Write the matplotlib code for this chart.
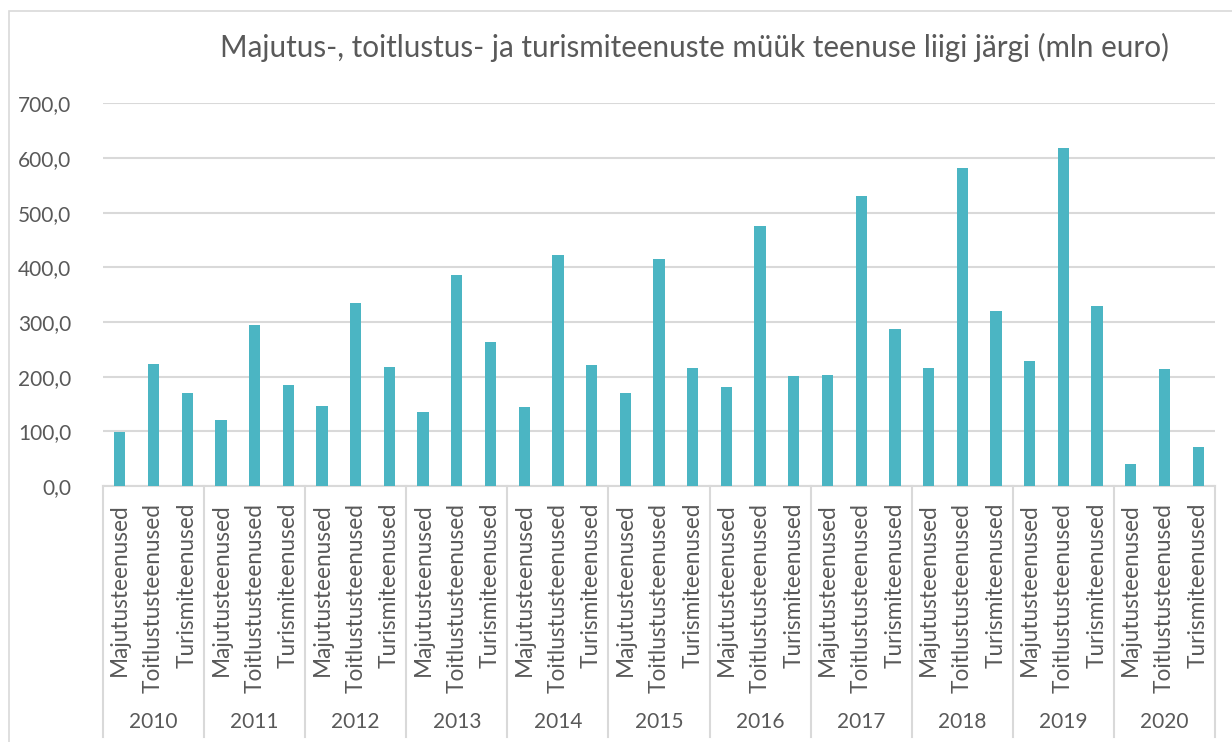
import numpy as np
import matplotlib.pyplot as plt
from matplotlib.patches import Rectangle

plt.rcParams['font.family'] = ['Lato', 'DejaVu Sans']

# andmed
years = ['2010', '2011', '2012', '2013', '2014', '2015', '2016',
         '2017', '2018', '2019', '2020']
services = ['Majutusteenused', 'Toitlustusteenused', 'Turismiteenused']
majutus = [98, 120, 146, 136, 144, 171, 181, 203, 216, 229, 40]
toitlustus = [224, 295, 334, 386, 422, 416, 475, 530, 581, 619, 214]
turism = [171, 185, 218, 263, 221, 216, 202, 288, 320, 330, 71]

bar_color = '#4BB5C3'
text_color = '#595959'
grid_color = '#D9D9D9'

values = []
labels = []
for i in range(len(years)):
    values += [majutus[i], toitlustus[i], turism[i]]
    labels += services
x = np.arange(len(values))

fig = plt.figure(figsize=(12.32, 7.42), dpi=100)
ax = fig.add_axes([0.0836, 0.345, 0.9026, 0.5158])

# raam ümber joonise
fig.patches.append(Rectangle((9 / 1232, -0.1), 1.2, 1 - 11 / 742 + 0.1,
                             transform=fig.transFigure, fill=False,
                             edgecolor=grid_color, linewidth=1.2))

ax.bar(x, values, width=0.335, color=bar_color, zorder=3)

ax.set_xlim(-0.5, len(values) - 0.5)
ax.set_ylim(0, 700)
ax.set_yticks(np.arange(0, 701, 100))
ax.set_yticklabels([f'{v},0' for v in range(0, 701, 100)],
                   fontsize=15, color=text_color)
ax.tick_params(axis='y', length=0, pad=23)
ax.set_xticks([])
ax.grid(axis='y', color=grid_color, linewidth=1.5, zorder=0)
for s in ['top', 'right', 'left']:
    ax.spines[s].set_visible(False)
ax.spines['bottom'].set_color(grid_color)
ax.spines['bottom'].set_linewidth(1.5)

tr = ax.get_xaxis_transform()
for i, lab in enumerate(labels):
    ax.text(x[i], -0.044, lab, rotation=90, ha='center', va='top',
            fontsize=16.3, color=text_color, transform=tr)
for g in range(len(years) + 1):
    ax.plot([g * 3 - 0.5, g * 3 - 0.5], [0, -0.656], color=grid_color,
            linewidth=1.5, transform=tr, clip_on=False)
for g, yr in enumerate(years):
    ax.text(g * 3 + 1, -0.617, yr, ha='center', va='center',
            fontsize=15, color=text_color, transform=tr)

fig.text(695 / 1232, 1 - 47 / 742,
         'Majutus-, toitlustus- ja turismiteenuste müük teenuse liigi järgi (mln euro)',
         ha='center', va='center', fontsize=21.3, color=text_color)

fig.savefig('out.png', dpi=100)
